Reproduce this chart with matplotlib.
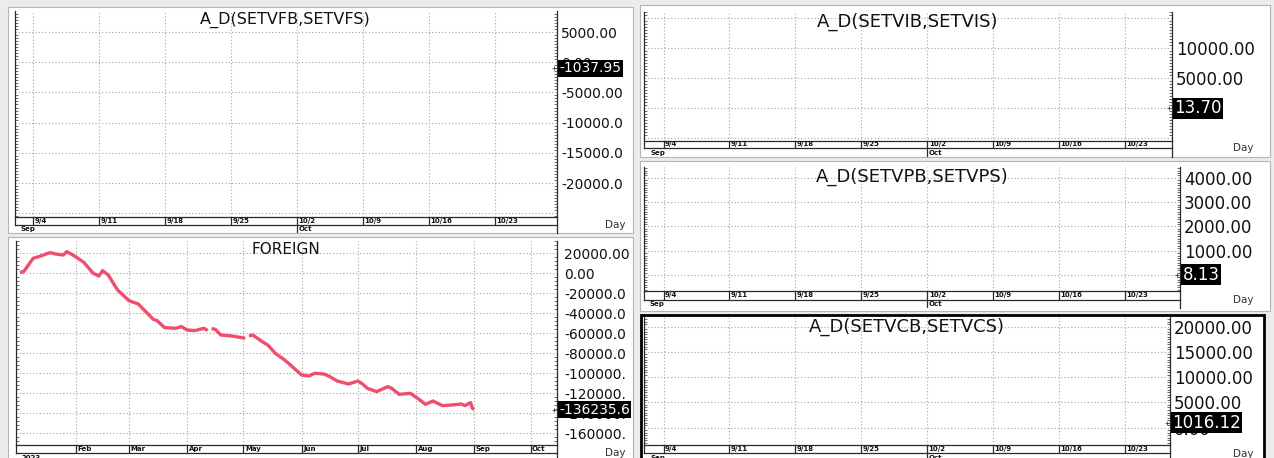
import matplotlib
matplotlib.use('Agg')
import matplotlib.pyplot as plt
import matplotlib.dates as mdates
import matplotlib.transforms as mtrans
from matplotlib.patches import Rectangle
from matplotlib.ticker import MultipleLocator
import numpy as np

plt.rcParams['font.family'] = ['DejaVu Sans']

# ---------------- data ----------------
foreign_dates = ['2023-01-02', '2023-01-04', '2023-01-09', '2023-01-13', '2023-01-18', '2023-01-21',
                 '2023-01-25', '2023-01-27', '2023-01-31', '2023-02-05', '2023-02-10', '2023-02-13',
                 '2023-02-15', '2023-02-18', '2023-02-23', '2023-03-01', '2023-03-06', '2023-03-14',
                 '2023-03-16', '2023-03-20', '2023-03-26', '2023-03-29', '2023-04-01', '2023-04-05',
                 '2023-04-10', '2023-04-12', '2023-04-13', '2023-04-14', '2023-04-16', '2023-04-19',
                 '2023-04-25', '2023-04-29', '2023-05-02', '2023-05-03', '2023-05-04', '2023-05-06',
                 '2023-05-11', '2023-05-14', '2023-05-18', '2023-05-23', '2023-05-27', '2023-06-01',
                 '2023-06-05', '2023-06-08', '2023-06-13', '2023-06-16', '2023-06-20', '2023-06-26',
                 '2023-07-01', '2023-07-03', '2023-07-06', '2023-07-11', '2023-07-17', '2023-07-19',
                 '2023-07-23', '2023-07-29', '2023-08-03', '2023-08-06', '2023-08-10', '2023-08-15',
                 '2023-08-20', '2023-08-25', '2023-08-27', '2023-08-30', '2023-08-31', '2023-09-01']
foreign_values = [1000, 1700, 15000, 17300, 20700, 19300, 18300, 21700, 17300, 11000, 0, -2700,
                  2700, -1700, -16700, -27300, -30700, -46000, -47300, -54300, -55000, -53300, -56700, -57300,
                  -55000, -57300, np.nan, -55300, -56000, -61700, -62700, -64000, -65000, np.nan, -62700, -61700,
                  -68300, -71700, -80000, -86700, -93300, -101700, -102700, -100000, -100700, -103300, -107700, -110700,
                  -107700, -110000, -115000, -118300, -113300, -115000, -121000, -120000, -126700, -131000, -127700, -132300,
                  -131700, -130700, -132300, -129300, -135000, -136235.6]

week_ticks = ['2023-09-04', '2023-09-11', '2023-09-18', '2023-09-25',
              '2023-10-02', '2023-10-09', '2023-10-16', '2023-10-23']
week_labels = ['9/4', '9/11', '9/18', '9/25', '10/2', '10/9', '10/16', '10/23']
week_months = [('left', 'Sep'), ('2023-10-02', 'Oct')]

month_ticks = ['2023-02-01', '2023-03-01', '2023-04-01', '2023-05-01', '2023-06-01',
               '2023-07-01', '2023-08-01', '2023-09-01', '2023-10-01']
month_labels = ['Feb', 'Mar', 'Apr', 'May', 'Jun', 'Jul', 'Aug', 'Sep', 'Oct']
month_years = [('left', '2023')]

titles = ['A_D(SETVFB,SETVFS)', 'FOREIGN', 'A_D(SETVIB,SETVIS)', 'A_D(SETVPB,SETVPS)', 'A_D(SETVCB,SETVCS)']

vf_ticks = [-25000, -20000, -15000, -10000, -5000, 0, 5000]
vf_labels = ['', '-20000.0', '-15000.0', '-10000.0', '-5000.00', '0.00', '5000.00']
vf_last, vf_last_label = -1037.95, '-1037.95'

fr_ticks = [-160000, -140000, -120000, -100000, -80000, -60000, -40000, -20000, 0, 20000]
fr_labels = ['-160000.', '-140000.', '-120000.', '-100000.', '-80000.0', '-60000.0',
             '-40000.0', '-20000.0', '0.00', '20000.00']
fr_last, fr_last_label = -136235.6, '-136235.6'

vi_ticks = [-5000, 0, 5000, 10000, 15000]
vi_labels = ['', '0.00', '5000.00', '10000.00', '']
vi_last, vi_last_label = 13.70, '13.70'

vp_ticks = [0, 1000, 2000, 3000, 4000]
vp_labels = ['0.00', '1000.00', '2000.00', '3000.00', '4000.00']
vp_last, vp_last_label = 8.13, '8.13'

vc_ticks = [0, 5000, 10000, 15000, 20000]
vc_labels = ['0.00', '5000.00', '10000.00', '15000.00', '20000.00']
vc_last, vc_last_label = 1016.12, '1016.12'

# ---------------- figure ----------------
W, H = 1274, 458
fig = plt.figure(figsize=(W / 100, H / 100), dpi=100)
fig.patch.set_facecolor('#ececec')

FRAME = '#2a2a2a'
GRID = dict(color='#a4a4a4', linestyle=(0, (1, 2)), linewidth=0.8)
D = mdates.datestr2num


def fbox(x0, y0, x1, y1):
    return [x0 / W, 1 - y1 / H, (x1 - x0) / W, (y1 - y0) / H]


def panel_bg(x0, y0, x1, y1, ec='#b4b4b4', lw=0.8, z=-5, fill=True):
    r = Rectangle((x0 / W, 1 - y1 / H), (x1 - x0) / W, (y1 - y0) / H, transform=fig.transFigure,
                  fc='white' if fill else 'none', ec=ec, lw=lw, zorder=z)
    fig.add_artist(r)


panel_bg(8, 7, 633, 233)
panel_bg(8, 237, 633, 462)
panel_bg(640, 5, 1270, 157)
panel_bg(640, 161, 1270, 311)
panel_bg(641, 315, 1264, 462)


def make_panel(pbox, strip_bot, strip_mid, xlim, ylim, yticks, ylabels, minor, fs, title, tfs,
               last_val, last_lbl, xt, xt_lbls, row2, day_xy, label_pad):
    x0, y0, x1, y1 = pbox
    ax = fig.add_axes(fbox(x0, y0, x1, y1))
    ax.set_xlim(xlim)
    ax.set_ylim(ylim)
    ax.set_facecolor('white')
    ax.spines['top'].set_visible(False)
    for s in ['left', 'right', 'bottom']:
        ax.spines[s].set_color(FRAME)
        ax.spines[s].set_linewidth(0.9)
    ax.set_yticks(yticks)
    ax.set_yticklabels(ylabels)
    ax.yaxis.set_minor_locator(MultipleLocator(minor))
    ax.tick_params(axis='y', which='major', left=False, right=False, labelleft=False,
                   labelright=True, pad=label_pad, labelsize=fs, length=0, labelcolor='#111111')
    ax.tick_params(axis='y', which='minor', left=True, right=True, direction='in',
                   length=2.5, width=0.6, color='#555555')
    ax.set_xticks(xt)
    ax.tick_params(axis='x', length=0, labelbottom=False)
    ax.grid(True, which='major', **GRID)

    ttr = mtrans.offset_copy(ax.transAxes, fig=fig, x=0, y=-1, units='dots')
    ax.text(0.5, 1.0, title, transform=ttr, ha='center', va='top', fontsize=tfs, color='#111111')

    bt = mtrans.blended_transform_factory(ax.transAxes, ax.transData)
    btx = mtrans.offset_copy(bt, fig=fig, x=2.5, y=0, units='dots')
    ax.text(1.0, last_val, last_lbl, transform=btx, ha='left', va='center', color='white', fontsize=fs,
            bbox=dict(boxstyle='square,pad=0.08', fc='black', ec='none'), zorder=10, clip_on=False)
    btp = mtrans.offset_copy(bt, fig=fig, x=-3, y=0, units='dots')
    ax.plot([1.0], [last_val], transform=btp, marker='+', ms=3.5, mew=0.6, color='#444444', clip_on=False)

    # date strip
    axs = fig.add_axes(fbox(x0, y1, x1, strip_bot))
    axs.set_xlim(xlim)
    axs.set_ylim(0, 1)
    axs.axis('off')
    mid = (strip_bot - strip_mid) / (strip_bot - y1)
    lk = dict(color=FRAME, lw=0.9, clip_on=False)
    axs.plot([0, 1], [mid, mid], transform=axs.transAxes, **lk)
    axs.plot([0, 0], [mid, 1], transform=axs.transAxes, **lk)
    axs.plot([1, 1], [0, 1], transform=axs.transAxes, **lk)
    axs.vlines(xt, mid, 1, color=FRAME, lw=0.9)
    off = mtrans.offset_copy(axs.transData, fig=fig, x=1.5, y=0, units='dots')
    for x, l in zip(xt, xt_lbls):
        axs.text(x, (1 + mid) / 2, l, transform=off, fontsize=5, fontweight='bold',
                 ha='left', va='center', color='#111111')
    for pos, l in row2:
        if pos == 'left':
            xx = xlim[0]
            o2 = mtrans.offset_copy(axs.transData, fig=fig, x=6, y=0, units='dots')
        else:
            xx = D(pos)
            axs.vlines([xx], 0, mid, color=FRAME, lw=0.9)
            o2 = off
        axs.text(xx, mid / 2, l, transform=o2, fontsize=5, fontweight='bold',
                 ha='left', va='center', color='#111111')
    fig.text(day_xy[0] / W, 1 - day_xy[1] / H, 'Day', fontsize=7.5, color='#333333',
             ha='center', va='center')
    return ax


wk = [D(t) for t in week_ticks]
mk = [D(t) for t in month_ticks]
d94 = D('2023-09-04')

# top-left
make_panel((14.5, 11, 557, 217), 233, 225, (d94 - 1.96, d94 + 55.57), (-25629, 8477),
           vf_ticks, vf_labels, 500, 10, titles[0], 11.5, vf_last, vf_last_label,
           wk, week_labels, week_months, (615, 225), 3)

# bottom-left FOREIGN
axf = make_panel((15.5, 241, 557, 445), 463, 453, (D('2023-02-01') - 32.39, D('2023-10-01') + 14.06),
                 (-171700, 32300), fr_ticks, fr_labels, 4000, 10, titles[1], 11, fr_last, fr_last_label,
                 mk, month_labels, month_years, (615, 453), 5)
axf.plot([D(t) for t in foreign_dates], foreign_values, color='#ef4f6d', lw=2.4,
         solid_capstyle='butt', solid_joinstyle='round')

# top-right
make_panel((644, 12, 1171.5, 140.5), 157, 148, (d94 - 2.08, d94 + 53.95), (-5367, 16050),
           vi_ticks, vi_labels, 500, 12, titles[2], 13, vi_last, vi_last_label,
           wk, week_labels, week_months, (1243, 148), 3)

# middle-right
make_panel((644, 166.5, 1180, 291), 308, 300, (d94 - 2.08, d94 + 54.85), (-658, 4465),
           vp_ticks, vp_labels, 100, 12, titles[3], 13, vp_last, vp_last_label,
           wk, week_labels, week_months, (1243, 300), 3)

# bottom-right
make_panel((644, 317, 1169.5, 445), 463, 453, (d94 - 2.08, d94 + 53.74), (-3426, 21920),
           vc_ticks, vc_labels, 500, 12, titles[4], 13, vc_last, vc_last_label,
           wk, week_labels, week_months, (1243, 454), 3)

panel_bg(641, 315, 1264, 470, ec='black', lw=2.0, z=20, fill=False)

fig.savefig('out.png', dpi=100, facecolor=fig.get_facecolor())
